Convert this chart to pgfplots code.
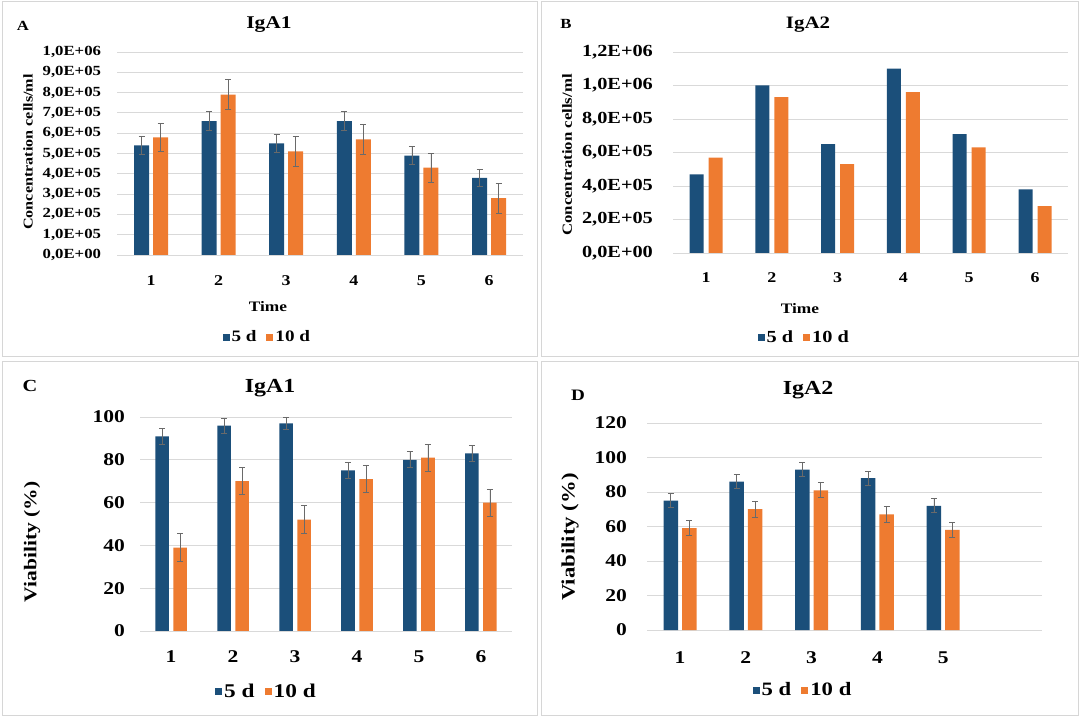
\documentclass[border=0pt]{standalone}
\usepackage{fontspec}
\setmainfont{Liberation Serif}[FakeStretch=1.2]
\usepackage{pgfplots}
\pgfplotsset{compat=1.18}
\definecolor{cblue}{HTML}{1B4F7A}
\definecolor{corange}{HTML}{EE7B30}
\definecolor{cgrid}{HTML}{D9D9D9}
\definecolor{cerr}{HTML}{6A6A6A}
\definecolor{cframe}{HTML}{D6D6D6}
\newcommand{\fs}[1]{\fontsize{#1}{#1}\selectfont\bfseries}
\pgfplotsset{
  panel/.style={
    scale only axis, anchor=south west, clip=false,
    xmin=0.5, xmax=6.5, xtick={1,2,3,4,5,6}, enlargelimits=false,
    axis line style={draw=none}, tick style={draw=none},
    ymajorgrids, grid style={cgrid, line width=0.9bp},
    scaled y ticks=false,
    /pgf/number format/assume math mode=true,
    yticklabel style={inner sep=0pt, anchor=east},
    xticklabel style={inner sep=0pt, anchor=north},
    legend columns=2,
    legend style={draw=none, fill=none, anchor=center, inner sep=0pt,
      nodes={inner sep=2bp},
      /tikz/every even column/.append style={column sep=8bp}},
  },
  sqleg/.style={legend image code/.code={\fill[##1] (0bp,-3.5bp) rectangle (7bp,3.5bp);}},
  b5/.style={fill=cblue, draw=none},
  b10/.style={fill=corange, draw=none},
  errb/.style={error bars/.cd, y dir=both, y explicit,
    error bar style={cerr, line width=0.8bp},
    error mark options={cerr, rotate=90, mark size=3bp, line width=0.8bp}},
}
\begin{document}
\begin{tikzpicture}
\useasboundingbox (0bp,0bp) rectangle (1080bp,718bp);
% frames
\draw[cframe, line width=1bp] (2bp,361bp) rectangle (537bp,716bp);
\draw[cframe, line width=1bp] (541bp,361bp) rectangle (1078bp,716bp);
\draw[cframe, line width=1bp] (2bp,2bp) rectangle (537bp,356bp);
\draw[cframe, line width=1bp] (541bp,2bp) rectangle (1078bp,356bp);

% ---------------- Panel A ----------------
\node[font=\fs{14}] at (23bp,692bp) {A};
\node[font=\fs{18}] at (269bp,693bp) {IgA1};
\node[font=\fs{13.5}, rotate=90] at (28bp,566bp) {Concentration cells/ml};
\node[font=\fs{14.5}] at (268bp,411bp) {Time};
\begin{axis}[panel, at={(117.2bp,463bp)}, width=405.6bp, height=203bp,
  ybar=4bp, bar width=15bp, sqleg,
  ymin=0, ymax=1000000,
  ytick={0,100000,200000,300000,400000,500000,600000,700000,800000,900000,1000000},
  yticklabels={{0,0E+00},{1,0E+05},{2,0E+05},{3,0E+05},{4,0E+05},{5,0E+05},{6,0E+05},{7,0E+05},{8,0E+05},{9,0E+05},{1,0E+06}},
  yticklabel shift=16bp, xticklabel shift=16bp,
  yticklabel style={font=\fs{14}}, xticklabel style={font=\fs{15}},
  legend style={at={(0.37,-0.404)}, font=\fs{16}},
]
\addplot[b5, errb] coordinates {(1,540000) +- (0,44000) (2,660000) +- (0,45000) (3,550000) +- (0,46000) (4,660000) +- (0,46000) (5,490000) +- (0,46000) (6,380000) +- (0,44000)};
\addplot[b10, errb] coordinates {(1,580000) +- (0,70000) (2,790000) +- (0,74000) (3,510000) +- (0,72000) (4,570000) +- (0,74000) (5,430000) +- (0,72000) (6,280000) +- (0,74000)};
\legend{5 d, 10 d}
\end{axis}

% ---------------- Panel B ----------------
\node[font=\fs{14}] at (566bp,694bp) {B};
\node[font=\fs{17.5}] at (808bp,693bp) {IgA2};
\node[font=\fs{14}, rotate=90] at (567bp,563bp) {Concentration cells/ml};
\node[font=\fs{14.5}] at (800bp,409bp) {Time};
\begin{axis}[panel, at={(673.1bp,465bp)}, width=394.8bp, height=201bp,
  ybar=5bp, bar width=14bp, sqleg,
  ymin=0, ymax=1200000,
  ytick={0,200000,400000,600000,800000,1000000,1200000},
  yticklabels={{0,0E+00},{2,0E+05},{4,0E+05},{6,0E+05},{8,0E+05},{1,0E+06},{1,2E+06}},
  yticklabel shift=20bp, xticklabel shift=15bp,
  yticklabel style={font=\fs{17}}, xticklabel style={font=\fs{15}},
  legend style={at={(0.332,-0.418)}, font=\fs{17}},
]
\addplot[b5] coordinates {(1,470000) (2,1000000) (3,650000) (4,1100000) (5,710000) (6,380000)};
\addplot[b10] coordinates {(1,570000) (2,930000) (3,530000) (4,960000) (5,630000) (6,280000)};
\legend{5 d, 10 d}
\end{axis}

% ---------------- Panel C ----------------
\node[font=\fs{17}] at (30bp,332bp) {C};
\node[font=\fs{20}] at (270bp,330bp) {IgA1};
\node[font=\fs{18}, rotate=90] at (32bp,176bp) {Viability (\%)};
\begin{axis}[panel, at={(140bp,87bp)}, width=372bp, height=214bp,
  ybar=4.5bp, bar width=13.5bp, sqleg,
  ymin=0, ymax=100, ytick={0,20,40,60,80,100},
  yticklabel shift=15bp, xticklabel shift=15bp,
  yticklabel style={font=\fs{18}}, xticklabel style={font=\fs{18}},
  legend style={at={(0.34,-0.285)}, font=\fs{19.5}},
]
\addplot[b5, errb] coordinates {(1,91) +- (0,3.7) (2,96) +- (0,3.5) (3,97) +- (0,3) (4,75) +- (0,3.8) (5,80) +- (0,3.7) (6,83) +- (0,3.7)};
\addplot[b10, errb] coordinates {(1,39) +- (0,6.5) (2,70) +- (0,6.3) (3,52) +- (0,6.5) (4,71) +- (0,6.2) (5,81) +- (0,6.2) (6,60) +- (0,6.3)};
\legend{5 d, 10 d}
\end{axis}

% ---------------- Panel D ----------------
\node[font=\fs{16}] at (578bp,323bp) {D};
\node[font=\fs{20}] at (808bp,328bp) {IgA2};
\node[font=\fs{19}, rotate=90] at (570bp,181bp) {Viability (\%)};
\begin{axis}[panel, at={(647.1bp,88bp)}, width=394.8bp, height=207bp,
  ybar=4bp, bar width=14.5bp, sqleg,
  ymin=0, ymax=120, ytick={0,20,40,60,80,100,120}, xtick={1,2,3,4,5},
  yticklabel shift=20bp, xticklabel shift=17bp,
  yticklabel style={font=\fs{18}}, xticklabel style={font=\fs{18}},
  legend style={at={(0.395,-0.29)}, font=\fs{19}},
]
\addplot[b5, errb] coordinates {(1,75) +- (0,4) (2,86) +- (0,4) (3,93) +- (0,4) (4,88) +- (0,4) (5,72) +- (0,4)};
\addplot[b10, errb] coordinates {(1,59) +- (0,4.3) (2,70) +- (0,4.5) (3,81) +- (0,4.3) (4,67) +- (0,4.5) (5,58) +- (0,4.4)};
\legend{5 d, 10 d}
\end{axis}
\end{tikzpicture}
\end{document}
